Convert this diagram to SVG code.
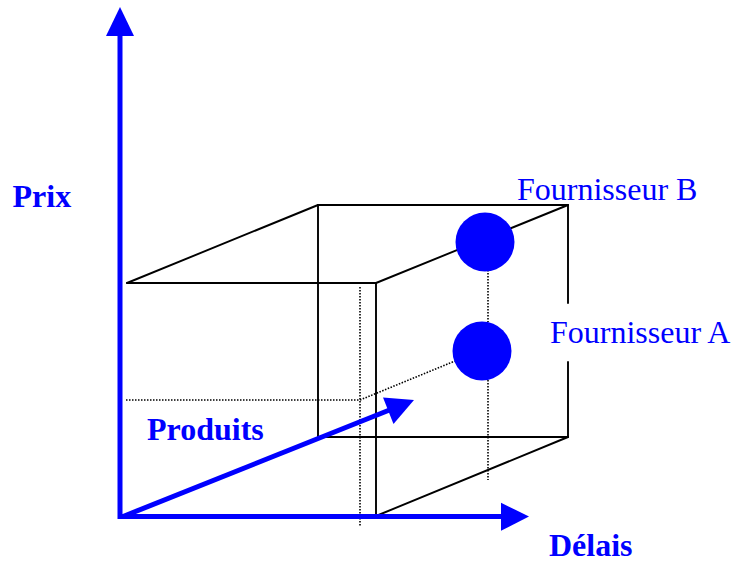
<svg xmlns="http://www.w3.org/2000/svg" width="733" height="562" viewBox="0 0 733 562">
<style>
.edge{stroke:#000;stroke-width:1.9;fill:none;stroke-linecap:round;stroke-linejoin:round}
.dot{stroke:#000;stroke-width:1.6;fill:none;stroke-dasharray:1.5 1.5}
.axis{stroke:#0000FF;stroke-width:5;fill:none}
.head{fill:#0000FF}
.pt{fill:#0000FF}
.lbl{font-family:"Liberation Serif","Times New Roman",serif;font-size:32px;fill:#0000FF}
.b{font-weight:bold}
</style>
<rect width="733" height="562" fill="#fff"/>
<g id="cube">
<line class="edge" x1="318" y1="205" x2="568" y2="205"/>
<line class="edge" x1="318" y1="205" x2="318" y2="437"/>
<line class="edge" x1="318" y1="437" x2="568" y2="437"/>
<line class="edge" x1="568" y1="205" x2="568" y2="303"/>
<line class="edge" x1="568" y1="362" x2="568" y2="437"/>
<line class="edge" x1="127" y1="283" x2="376" y2="283"/>
<line class="edge" x1="127" y1="283" x2="318" y2="205"/>
<line class="edge" x1="376" y1="283" x2="568" y2="205"/>
<line class="edge" x1="376" y1="283" x2="376" y2="516"/>
<line class="edge" x1="376" y1="516" x2="568" y2="437"/>
</g>
<g id="hidden">
<line class="dot" x1="360" y1="287" x2="360" y2="527"/>
<line class="dot" x1="126" y1="400" x2="360" y2="400"/>
<line class="dot" x1="360" y1="400" x2="455" y2="361"/>
<line class="dot" x1="488" y1="270" x2="488" y2="322"/>
<line class="dot" x1="488" y1="380" x2="488" y2="480"/>
</g>
<g id="connectors">
<line class="axis" x1="120" y1="519" x2="120" y2="34"/>
<polygon class="head" points="120,7 106,36 134,36"/>
<line class="axis" x1="118" y1="516.5" x2="503" y2="516.5"/>
<polygon class="head" points="529,516.5 501,502.7 501,530.7"/>
<line class="axis" x1="123" y1="516.5" x2="392" y2="409"/>
<polygon class="head" points="414,400 383,397.5 393.5,424"/>
</g>
<g id="fournisseur-b"><circle class="pt" cx="485" cy="242" r="29.5"/></g>
<g id="fournisseur-a"><circle class="pt" cx="482" cy="351" r="29.5"/></g>
<g id="labels">
<text class="lbl b" x="12.5" y="206.7">Prix</text>
<text class="lbl b" x="147" y="440">Produits</text>
<text class="lbl b" x="549" y="556">Délais</text>
<text class="lbl" x="517" y="200">Fournisseur B</text>
<text class="lbl" x="550" y="342.7">Fournisseur A</text>
</g>
</svg>
